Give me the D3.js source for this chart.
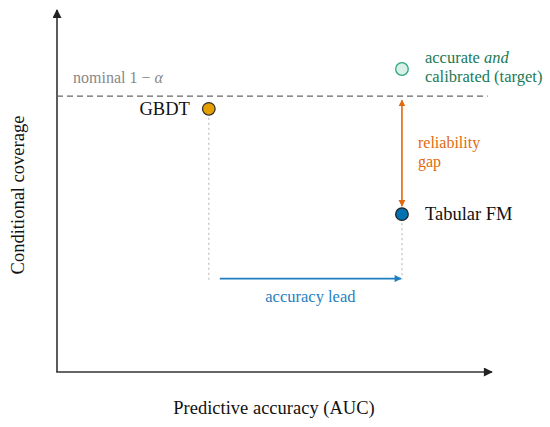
<!DOCTYPE html>
<html><head><meta charset="utf-8">
<script src="https://cdn.jsdelivr.net/npm/d3@7"></script>
<style>body{margin:0;background:#fff}svg{display:block}text{font-family:"Liberation Serif",serif}</style>
</head><body>
<svg id="c" width="550" height="427"></svg>
<script>
// Data (conceptual units 0..1)
const pointNames = ["GBDT", "Tabular FM", "Target"];
const accuracy = [0.349, 0.793, 0.793];
const coverage = [0.727, 0.436, 0.837];
const nominal = 0.762;
const pointColors = ["#E69F00", "#0072B2", "#d8f0e8"];
const pointStrokes = ["#333333", "#222222", "#2aa87a"];
const xLabel = "Predictive accuracy (AUC)";
const yLabel = "Conditional coverage";

const svg = d3.select("#c");
const x = d3.scaleLinear().domain([0, 1]).range([57, 492]);
const y = d3.scaleLinear().domain([0, 1]).range([372, 10]);
const font = "'Liberation Serif', serif";

const defs = svg.append("defs");
function marker(id, color, w, h) {
  defs.append("marker").attr("id", id).attr("viewBox", "0 0 10 10").attr("refX", 9).attr("refY", 5)
    .attr("markerWidth", w).attr("markerHeight", h).attr("orient", "auto-start-reverse")
    .attr("markerUnits", "userSpaceOnUse")
    .append("path").attr("d", "M0,0 L10,5 L0,10 Z").attr("fill", color);
}
marker("ak", "#222", 10, 9);
marker("ab", "#1f7fc0", 9, 7);
marker("ao", "#e06a10", 7, 7);

// axes
svg.append("line").attr("x1", x(0)).attr("y1", y(0)).attr("x2", x(0)).attr("y2", y(1))
  .attr("stroke", "#333").attr("stroke-width", 1.6).attr("marker-end", "url(#ak)");
svg.append("line").attr("x1", x(0) - 0.8).attr("y1", y(0)).attr("x2", x(1)).attr("y2", y(0))
  .attr("stroke", "#333").attr("stroke-width", 1.6).attr("marker-end", "url(#ak)");

svg.append("text").attr("x", 274).attr("y", 414).attr("text-anchor", "middle")
  .style("font-family", font).style("font-size", "18.5px").attr("fill", "#111").text(xLabel);
svg.append("text").attr("transform", "translate(24,195) rotate(-90)").attr("text-anchor", "middle")
  .style("font-family", font).style("font-size", "18.5px").attr("fill", "#111").text(yLabel);

// nominal line
svg.append("line").attr("x1", x(0)).attr("x2", x(0.99)).attr("y1", y(nominal)).attr("y2", y(nominal))
  .attr("stroke", "#666").attr("stroke-width", 1.3).attr("stroke-dasharray", "6,4");
const nt = svg.append("text").attr("x", 73).attr("y", y(nominal) - 13)
  .style("font-family", font).style("font-size", "16px").attr("fill", "#888");
nt.append("tspan").text("nominal 1 \u2212 ");
nt.append("tspan").style("font-style", "italic").text("\u03b1");

// dotted guide lines
const guideBottom = 0.255;
svg.append("line").attr("x1", x(accuracy[0])).attr("x2", x(accuracy[0]))
  .attr("y1", y(coverage[0]) + 9).attr("y2", y(guideBottom))
  .attr("stroke", "#aaa").attr("stroke-width", 0.9).attr("stroke-dasharray", "2,3");
svg.append("line").attr("x1", x(accuracy[1])).attr("x2", x(accuracy[1]))
  .attr("y1", y(coverage[1]) + 9).attr("y2", y(guideBottom))
  .attr("stroke", "#aaa").attr("stroke-width", 0.9).attr("stroke-dasharray", "2,3");

// accuracy lead arrow
const leadY = 0.258;
svg.append("line").attr("x1", x(accuracy[0]) + 11).attr("x2", x(accuracy[1]) - 1)
  .attr("y1", y(leadY)).attr("y2", y(leadY))
  .attr("stroke", "#1f7fc0").attr("stroke-width", 1.8).attr("marker-end", "url(#ab)");
svg.append("text").attr("x", (x(accuracy[0]) + x(accuracy[1])) / 2 + 5).attr("y", y(leadY) + 23)
  .attr("text-anchor", "middle").style("font-family", font).style("font-size", "16.5px")
  .attr("fill", "#1f7fc0").text("accuracy lead");

// reliability gap arrow
svg.append("line").attr("x1", x(accuracy[1])).attr("x2", x(accuracy[1]))
  .attr("y1", y(nominal) + 4).attr("y2", y(coverage[1]) - 8)
  .attr("stroke", "#e06a10").attr("stroke-width", 1.6)
  .attr("marker-start", "url(#ao)").attr("marker-end", "url(#ao)");
svg.append("text").attr("x", x(accuracy[1]) + 16).attr("y", 148)
  .style("font-family", font).style("font-size", "16px").attr("fill", "#e06a10").text("reliability");
svg.append("text").attr("x", x(accuracy[1]) + 16).attr("y", 167)
  .style("font-family", font).style("font-size", "16px").attr("fill", "#e06a10").text("gap");

// points
svg.selectAll("circle.pt").data(pointNames).join("circle").attr("class", "pt")
  .attr("cx", (d, i) => x(accuracy[i])).attr("cy", (d, i) => y(coverage[i])).attr("r", 6.3)
  .attr("fill", (d, i) => pointColors[i]).attr("stroke", (d, i) => pointStrokes[i]).attr("stroke-width", 1.3);

// point labels
svg.append("text").attr("x", x(accuracy[0]) - 19).attr("y", y(coverage[0]) + 6).attr("text-anchor", "end")
  .style("font-family", font).style("font-size", "18.5px").attr("fill", "#111").text("GBDT");
svg.append("text").attr("x", x(accuracy[1]) + 23).attr("y", y(coverage[1]) + 6)
  .style("font-family", font).style("font-size", "18.5px").attr("fill", "#111").text("Tabular FM");
const tg = svg.append("text").attr("x", x(accuracy[2]) + 23).attr("y", y(coverage[2]) - 6)
  .style("font-family", font).style("font-size", "16.5px").attr("fill", "#1a7a55");
tg.append("tspan").text("accurate ");
tg.append("tspan").style("font-style", "italic").text("and");
svg.append("text").attr("x", x(accuracy[2]) + 23).attr("y", y(coverage[2]) + 13)
  .style("font-family", font).style("font-size", "16.5px").attr("fill", "#1a7a55").text("calibrated (target)");
</script>
</body></html>
